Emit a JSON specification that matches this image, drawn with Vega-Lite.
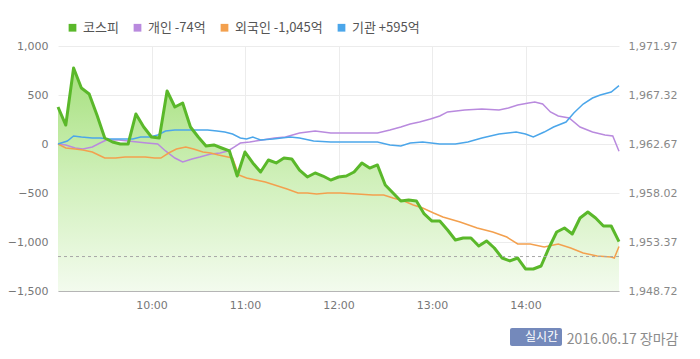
{
  "$schema": "https://vega.github.io/schema/vega-lite/v6.json",
  "width": 561,
  "height": 245,
  "autosize": {"type": "none"},
  "padding": {"left": 58, "top": 46, "right": 81, "bottom": 68},
  "background": "white",
  "config": {
    "view": {"stroke": null},
    "font": "DejaVu Sans"
  },
  "datasets": {
    "kospi": [
      {"t": "2016-06-17T09:00", "p": 1966.18}, {"t": "2016-06-17T09:05", "p": 1964.47}, {"t": "2016-06-17T09:10", "p": 1969.88},
      {"t": "2016-06-17T09:15", "p": 1967.98}, {"t": "2016-06-17T09:20", "p": 1967.42}, {"t": "2016-06-17T09:25", "p": 1965.42},
      {"t": "2016-06-17T09:30", "p": 1963.24}, {"t": "2016-06-17T09:35", "p": 1962.86}, {"t": "2016-06-17T09:40", "p": 1962.67},
      {"t": "2016-06-17T09:45", "p": 1962.67}, {"t": "2016-06-17T09:50", "p": 1965.52}, {"t": "2016-06-17T09:55", "p": 1964.28},
      {"t": "2016-06-17T10:00", "p": 1963.33}, {"t": "2016-06-17T10:05", "p": 1963.24}, {"t": "2016-06-17T10:10", "p": 1967.70},
      {"t": "2016-06-17T10:15", "p": 1966.18}, {"t": "2016-06-17T10:20", "p": 1966.56}, {"t": "2016-06-17T10:25", "p": 1964.28},
      {"t": "2016-06-17T10:30", "p": 1963.33}, {"t": "2016-06-17T10:35", "p": 1962.48}, {"t": "2016-06-17T10:40", "p": 1962.58},
      {"t": "2016-06-17T10:45", "p": 1962.29}, {"t": "2016-06-17T10:50", "p": 1962.01}, {"t": "2016-06-17T10:55", "p": 1959.63},
      {"t": "2016-06-17T11:00", "p": 1961.91}, {"t": "2016-06-17T11:05", "p": 1960.87}, {"t": "2016-06-17T11:10", "p": 1960.01},
      {"t": "2016-06-17T11:15", "p": 1961.15}, {"t": "2016-06-17T11:20", "p": 1960.87}, {"t": "2016-06-17T11:25", "p": 1961.34},
      {"t": "2016-06-17T11:30", "p": 1961.25}, {"t": "2016-06-17T11:35", "p": 1960.20}, {"t": "2016-06-17T11:40", "p": 1959.54},
      {"t": "2016-06-17T11:45", "p": 1959.92}, {"t": "2016-06-17T11:50", "p": 1959.63}, {"t": "2016-06-17T11:55", "p": 1959.25},
      {"t": "2016-06-17T12:00", "p": 1959.54}, {"t": "2016-06-17T12:05", "p": 1959.63}, {"t": "2016-06-17T12:10", "p": 1960.01},
      {"t": "2016-06-17T12:15", "p": 1960.87}, {"t": "2016-06-17T12:20", "p": 1960.39}, {"t": "2016-06-17T12:25", "p": 1960.68},
      {"t": "2016-06-17T12:30", "p": 1958.78}, {"t": "2016-06-17T12:35", "p": 1958.02}, {"t": "2016-06-17T12:40", "p": 1957.26},
      {"t": "2016-06-17T12:45", "p": 1957.36}, {"t": "2016-06-17T12:50", "p": 1957.26}, {"t": "2016-06-17T12:55", "p": 1956.03},
      {"t": "2016-06-17T13:00", "p": 1955.36}, {"t": "2016-06-17T13:05", "p": 1955.36}, {"t": "2016-06-17T13:10", "p": 1954.51},
      {"t": "2016-06-17T13:15", "p": 1953.56}, {"t": "2016-06-17T13:20", "p": 1953.75}, {"t": "2016-06-17T13:25", "p": 1953.75},
      {"t": "2016-06-17T13:30", "p": 1952.99}, {"t": "2016-06-17T13:35", "p": 1953.47}, {"t": "2016-06-17T13:40", "p": 1952.80},
      {"t": "2016-06-17T13:45", "p": 1951.85}, {"t": "2016-06-17T13:50", "p": 1951.57}, {"t": "2016-06-17T13:55", "p": 1951.85},
      {"t": "2016-06-17T14:00", "p": 1950.81}, {"t": "2016-06-17T14:05", "p": 1950.81}, {"t": "2016-06-17T14:10", "p": 1951.09},
      {"t": "2016-06-17T14:15", "p": 1952.80}, {"t": "2016-06-17T14:20", "p": 1954.32}, {"t": "2016-06-17T14:25", "p": 1954.70},
      {"t": "2016-06-17T14:30", "p": 1954.13}, {"t": "2016-06-17T14:35", "p": 1955.65}, {"t": "2016-06-17T14:40", "p": 1956.22},
      {"t": "2016-06-17T14:45", "p": 1955.65}, {"t": "2016-06-17T14:50", "p": 1954.89}, {"t": "2016-06-17T14:55", "p": 1954.89},
      {"t": "2016-06-17T15:00", "p": 1953.40}
    ],
    "investor": [
      {"t": "2016-06-17T09:00", "s": "개인", "v": 0}, {"t": "2016-06-17T09:05", "s": "개인", "v": -10}, {"t": "2016-06-17T09:11", "s": "개인", "v": -41},
      {"t": "2016-06-17T09:16", "s": "개인", "v": -51}, {"t": "2016-06-17T09:22", "s": "개인", "v": -31}, {"t": "2016-06-17T09:27", "s": "개인", "v": 10},
      {"t": "2016-06-17T09:31", "s": "개인", "v": 41}, {"t": "2016-06-17T09:39", "s": "개인", "v": 41}, {"t": "2016-06-17T09:45", "s": "개인", "v": 31},
      {"t": "2016-06-17T09:51", "s": "개인", "v": 20}, {"t": "2016-06-17T09:57", "s": "개인", "v": 10}, {"t": "2016-06-17T10:04", "s": "개인", "v": 0},
      {"t": "2016-06-17T10:09", "s": "개인", "v": -71}, {"t": "2016-06-17T10:15", "s": "개인", "v": -143}, {"t": "2016-06-17T10:20", "s": "개인", "v": -184},
      {"t": "2016-06-17T10:26", "s": "개인", "v": -153}, {"t": "2016-06-17T10:31", "s": "개인", "v": -133}, {"t": "2016-06-17T10:38", "s": "개인", "v": -102},
      {"t": "2016-06-17T10:44", "s": "개인", "v": -92}, {"t": "2016-06-17T10:49", "s": "개인", "v": -71}, {"t": "2016-06-17T10:53", "s": "개인", "v": -31},
      {"t": "2016-06-17T10:57", "s": "개인", "v": 10}, {"t": "2016-06-17T11:03", "s": "개인", "v": 20}, {"t": "2016-06-17T11:11", "s": "개인", "v": 41},
      {"t": "2016-06-17T11:19", "s": "개인", "v": 61}, {"t": "2016-06-17T11:26", "s": "개인", "v": 71}, {"t": "2016-06-17T11:35", "s": "개인", "v": 112},
      {"t": "2016-06-17T11:45", "s": "개인", "v": 133}, {"t": "2016-06-17T11:55", "s": "개인", "v": 112}, {"t": "2016-06-17T12:08", "s": "개인", "v": 112},
      {"t": "2016-06-17T12:25", "s": "개인", "v": 112}, {"t": "2016-06-17T12:33", "s": "개인", "v": 143}, {"t": "2016-06-17T12:40", "s": "개인", "v": 173},
      {"t": "2016-06-17T12:46", "s": "개인", "v": 204}, {"t": "2016-06-17T12:52", "s": "개인", "v": 224}, {"t": "2016-06-17T12:59", "s": "개인", "v": 255},
      {"t": "2016-06-17T13:05", "s": "개인", "v": 286}, {"t": "2016-06-17T13:10", "s": "개인", "v": 327}, {"t": "2016-06-17T13:21", "s": "개인", "v": 347},
      {"t": "2016-06-17T13:32", "s": "개인", "v": 357}, {"t": "2016-06-17T13:43", "s": "개인", "v": 347}, {"t": "2016-06-17T13:49", "s": "개인", "v": 367},
      {"t": "2016-06-17T13:55", "s": "개인", "v": 398}, {"t": "2016-06-17T14:02", "s": "개인", "v": 418}, {"t": "2016-06-17T14:06", "s": "개인", "v": 429},
      {"t": "2016-06-17T14:11", "s": "개인", "v": 408}, {"t": "2016-06-17T14:16", "s": "개인", "v": 327}, {"t": "2016-06-17T14:21", "s": "개인", "v": 286},
      {"t": "2016-06-17T14:28", "s": "개인", "v": 265}, {"t": "2016-06-17T14:35", "s": "개인", "v": 173}, {"t": "2016-06-17T14:43", "s": "개인", "v": 122},
      {"t": "2016-06-17T14:51", "s": "개인", "v": 92}, {"t": "2016-06-17T14:56", "s": "개인", "v": 82}, {"t": "2016-06-17T15:00", "s": "개인", "v": -74},
      {"t": "2016-06-17T09:00", "s": "외국인", "v": 0}, {"t": "2016-06-17T09:05", "s": "외국인", "v": -41}, {"t": "2016-06-17T09:11", "s": "외국인", "v": -51},
      {"t": "2016-06-17T09:16", "s": "외국인", "v": -61}, {"t": "2016-06-17T09:22", "s": "외국인", "v": -82}, {"t": "2016-06-17T09:26", "s": "외국인", "v": -112},
      {"t": "2016-06-17T09:30", "s": "외국인", "v": -143}, {"t": "2016-06-17T09:37", "s": "외국인", "v": -143}, {"t": "2016-06-17T09:43", "s": "외국인", "v": -133},
      {"t": "2016-06-17T09:49", "s": "외국인", "v": -133}, {"t": "2016-06-17T09:56", "s": "외국인", "v": -133}, {"t": "2016-06-17T10:02", "s": "외국인", "v": -143},
      {"t": "2016-06-17T10:06", "s": "외국인", "v": -143}, {"t": "2016-06-17T10:11", "s": "외국인", "v": -92}, {"t": "2016-06-17T10:16", "s": "외국인", "v": -51},
      {"t": "2016-06-17T10:22", "s": "외국인", "v": -31}, {"t": "2016-06-17T10:27", "s": "외국인", "v": -51}, {"t": "2016-06-17T10:33", "s": "외국인", "v": -82},
      {"t": "2016-06-17T10:38", "s": "외국인", "v": -92}, {"t": "2016-06-17T10:43", "s": "외국인", "v": -112}, {"t": "2016-06-17T10:49", "s": "외국인", "v": -133},
      {"t": "2016-06-17T10:52", "s": "외국인", "v": -143}, {"t": "2016-06-17T10:56", "s": "외국인", "v": -316}, {"t": "2016-06-17T11:01", "s": "외국인", "v": -347},
      {"t": "2016-06-17T11:07", "s": "외국인", "v": -367}, {"t": "2016-06-17T11:13", "s": "외국인", "v": -388}, {"t": "2016-06-17T11:19", "s": "외국인", "v": -418},
      {"t": "2016-06-17T11:27", "s": "외국인", "v": -459}, {"t": "2016-06-17T11:34", "s": "외국인", "v": -500}, {"t": "2016-06-17T11:40", "s": "외국인", "v": -500},
      {"t": "2016-06-17T11:46", "s": "외국인", "v": -510}, {"t": "2016-06-17T11:53", "s": "외국인", "v": -500}, {"t": "2016-06-17T12:01", "s": "외국인", "v": -500},
      {"t": "2016-06-17T12:12", "s": "외국인", "v": -510}, {"t": "2016-06-17T12:22", "s": "외국인", "v": -520}, {"t": "2016-06-17T12:29", "s": "외국인", "v": -520},
      {"t": "2016-06-17T12:35", "s": "외국인", "v": -551}, {"t": "2016-06-17T12:42", "s": "외국인", "v": -582}, {"t": "2016-06-17T12:48", "s": "외국인", "v": -622},
      {"t": "2016-06-17T12:54", "s": "외국인", "v": -653}, {"t": "2016-06-17T13:01", "s": "외국인", "v": -704}, {"t": "2016-06-17T13:07", "s": "외국인", "v": -745},
      {"t": "2016-06-17T13:18", "s": "외국인", "v": -796}, {"t": "2016-06-17T13:29", "s": "외국인", "v": -857}, {"t": "2016-06-17T13:39", "s": "외국인", "v": -898},
      {"t": "2016-06-17T13:48", "s": "외국인", "v": -949}, {"t": "2016-06-17T13:55", "s": "외국인", "v": -1020}, {"t": "2016-06-17T14:03", "s": "외국인", "v": -1020},
      {"t": "2016-06-17T14:12", "s": "외국인", "v": -1051}, {"t": "2016-06-17T14:21", "s": "외국인", "v": -1020}, {"t": "2016-06-17T14:29", "s": "외국인", "v": -1061},
      {"t": "2016-06-17T14:37", "s": "외국인", "v": -1112}, {"t": "2016-06-17T14:46", "s": "외국인", "v": -1143}, {"t": "2016-06-17T14:55", "s": "외국인", "v": -1153},
      {"t": "2016-06-17T14:57", "s": "외국인", "v": -1163}, {"t": "2016-06-17T15:00", "s": "외국인", "v": -1045},
      {"t": "2016-06-17T09:00", "s": "기관", "v": 0}, {"t": "2016-06-17T09:06", "s": "기관", "v": 31}, {"t": "2016-06-17T09:10", "s": "기관", "v": 82},
      {"t": "2016-06-17T09:15", "s": "기관", "v": 71}, {"t": "2016-06-17T09:22", "s": "기관", "v": 61}, {"t": "2016-06-17T09:27", "s": "기관", "v": 61},
      {"t": "2016-06-17T09:33", "s": "기관", "v": 51}, {"t": "2016-06-17T09:40", "s": "기관", "v": 51}, {"t": "2016-06-17T09:48", "s": "기관", "v": 51},
      {"t": "2016-06-17T09:53", "s": "기관", "v": 71}, {"t": "2016-06-17T09:59", "s": "기관", "v": 71}, {"t": "2016-06-17T10:04", "s": "기관", "v": 92},
      {"t": "2016-06-17T10:09", "s": "기관", "v": 133}, {"t": "2016-06-17T10:15", "s": "기관", "v": 143}, {"t": "2016-06-17T10:25", "s": "기관", "v": 143},
      {"t": "2016-06-17T10:36", "s": "기관", "v": 143}, {"t": "2016-06-17T10:42", "s": "기관", "v": 133}, {"t": "2016-06-17T10:47", "s": "기관", "v": 122},
      {"t": "2016-06-17T10:52", "s": "기관", "v": 102}, {"t": "2016-06-17T10:57", "s": "기관", "v": 61}, {"t": "2016-06-17T11:01", "s": "기관", "v": 51},
      {"t": "2016-06-17T11:05", "s": "기관", "v": 71}, {"t": "2016-06-17T11:10", "s": "기관", "v": 41}, {"t": "2016-06-17T11:18", "s": "기관", "v": 51},
      {"t": "2016-06-17T11:29", "s": "기관", "v": 71}, {"t": "2016-06-17T11:35", "s": "기관", "v": 61}, {"t": "2016-06-17T11:44", "s": "기관", "v": 31},
      {"t": "2016-06-17T11:55", "s": "기관", "v": 20}, {"t": "2016-06-17T12:08", "s": "기관", "v": 20}, {"t": "2016-06-17T12:25", "s": "기관", "v": 20},
      {"t": "2016-06-17T12:33", "s": "기관", "v": -10}, {"t": "2016-06-17T12:40", "s": "기관", "v": -20}, {"t": "2016-06-17T12:46", "s": "기관", "v": 10},
      {"t": "2016-06-17T12:54", "s": "기관", "v": 20}, {"t": "2016-06-17T13:05", "s": "기관", "v": 0}, {"t": "2016-06-17T13:15", "s": "기관", "v": 0},
      {"t": "2016-06-17T13:23", "s": "기관", "v": 20}, {"t": "2016-06-17T13:32", "s": "기관", "v": 61}, {"t": "2016-06-17T13:43", "s": "기관", "v": 102},
      {"t": "2016-06-17T13:54", "s": "기관", "v": 122}, {"t": "2016-06-17T14:00", "s": "기관", "v": 102}, {"t": "2016-06-17T14:05", "s": "기관", "v": 71},
      {"t": "2016-06-17T14:12", "s": "기관", "v": 122}, {"t": "2016-06-17T14:18", "s": "기관", "v": 173}, {"t": "2016-06-17T14:26", "s": "기관", "v": 224},
      {"t": "2016-06-17T14:31", "s": "기관", "v": 316}, {"t": "2016-06-17T14:37", "s": "기관", "v": 408}, {"t": "2016-06-17T14:43", "s": "기관", "v": 469},
      {"t": "2016-06-17T14:48", "s": "기관", "v": 500}, {"t": "2016-06-17T14:55", "s": "기관", "v": 531}, {"t": "2016-06-17T15:00", "s": "기관", "v": 595}
    ],
    "prev": [{"p": 1951.99, "k": "전일종가"}]
  },
  "layer": [
    {
      "data": {"name": "kospi"},
      "mark": {
        "type": "area",
        "color": {"x1": 0, "y1": 0, "x2": 0, "y2": 1, "gradient": "linear",
          "stops": [{"offset": 0, "color": "#a6e07e"}, {"offset": 0.5, "color": "#d0f0ba"}, {"offset": 1, "color": "#f3fbee"}]},
        "opacity": 1
      },
      "encoding": {
        "x": {"field": "t", "type": "temporal",
          "scale": {"domain": [{"year": 2016, "month": 6, "date": 17, "hours": 9}, {"year": 2016, "month": 6, "date": 17, "hours": 15}]},
          "axis": {"values": [{"year": 2016, "month": 6, "date": 17, "hours": 10}, {"year": 2016, "month": 6, "date": 17, "hours": 11}, {"year": 2016, "month": 6, "date": 17, "hours": 12}, {"year": 2016, "month": 6, "date": 17, "hours": 13}, {"year": 2016, "month": 6, "date": 17, "hours": 14}],
            "format": "%H:%M", "grid": true, "gridColor": "#ececec", "domainColor": "#b5b5b5", "ticks": false,
            "labelFont": "DejaVu Sans", "labelFontSize": 11, "labelColor": "#777", "labelPadding": 8,
            "title": "2016.06.17 장마감", "titleX": 620, "titleY": 52, "titleAlign": "right", "titleAnchor": "end", "titleBaseline": "alphabetic",
            "titleFont": "Noto Sans CJK KR", "titleFontSize": 14, "titleFontWeight": "normal", "titleColor": "#8c8c8c"}},
        "y": {"field": "p", "type": "quantitative", "scale": {"domain": [1948.72, 1971.97], "nice": false, "zero": false}, "axis": null},
        "y2": {"datum": 1948.72}
      }
    },
    {
      "data": {"name": "investor"},
      "mark": {"type": "square", "size": 0, "filled": true, "opacity": 1},
      "encoding": {
        "x": {"field": "t", "type": "temporal",
          "scale": {"domain": [{"year": 2016, "month": 6, "date": 17, "hours": 9}, {"year": 2016, "month": 6, "date": 17, "hours": 15}]},
          "axis": {"values": [{"year": 2016, "month": 6, "date": 17, "hours": 10}, {"year": 2016, "month": 6, "date": 17, "hours": 11}, {"year": 2016, "month": 6, "date": 17, "hours": 12}, {"year": 2016, "month": 6, "date": 17, "hours": 13}, {"year": 2016, "month": 6, "date": 17, "hours": 14}],
            "format": "%H:%M", "grid": true, "gridColor": "#ececec", "domainColor": "#b5b5b5", "ticks": false,
            "labelFont": "DejaVu Sans", "labelFontSize": 11, "labelColor": "#777", "labelPadding": 8,
            "title": "2016.06.17 장마감", "titleX": 620, "titleY": 52, "titleAlign": "right", "titleAnchor": "end", "titleBaseline": "alphabetic",
            "titleFont": "Noto Sans CJK KR", "titleFontSize": 14, "titleFontWeight": "normal", "titleColor": "#8c8c8c"}},
        "y": {"field": "v", "type": "quantitative", "scale": {"domain": [-1500, 1000], "nice": false},
          "axis": {"orient": "left", "values": [-1500, -1000, -500, 0, 500, 1000], "format": ",.0f", "grid": true, "gridColor": "#ececec",
            "domain": false, "ticks": false, "labelPadding": 10, "title": null, "labelFont": "DejaVu Sans", "labelFontSize": 11, "labelColor": "#777"}},
        "color": {"field": "s", "type": "nominal",
          "scale": {"domain": ["코스피", "개인", "외국인", "기관"], "range": ["#5ab82a", "#b98ade", "#f3a04e", "#4ba6ea"]},
          "legend": {"orient": "none", "legendX": 8, "legendY": -25, "direction": "horizontal", "title": null, "padding": 0,
            "labelFont": "Noto Sans CJK KR", "labelFontSize": 13, "labelColor": "#555", "labelOffset": 4, "columnPadding": 12,
            "symbolType": "square", "symbolSize": 60, "symbolStrokeWidth": 0, "symbolOpacity": 1,
            "labelExpr": "datum.label == '개인' ? '개인 -74억' : datum.label == '외국인' ? '외국인 -1,045억' : datum.label == '기관' ? '기관 +595억' : datum.label"
          }
        }
      }
    },
    {
      "data": {"name": "investor"},
      "mark": {"type": "line", "strokeWidth": 1.5, "interpolate": "linear"},
      "encoding": {
        "x": {"field": "t", "type": "temporal"},
        "y": {"field": "v", "type": "quantitative", "scale": {"domain": [-1500, 1000], "nice": false}, "axis": null},
        "color": {"field": "s", "type": "nominal",
          "scale": {"domain": ["코스피", "개인", "외국인", "기관"], "range": ["#5ab82a", "#b98ade", "#f3a04e", "#4ba6ea"]},
          "legend": null}
      }
    },
    {
      "data": {"name": "kospi"},
      "mark": {"type": "line", "strokeWidth": 3, "strokeJoin": "round"},
      "encoding": {
        "x": {"field": "t", "type": "temporal"},
        "y": {"field": "p", "type": "quantitative", "scale": {"domain": [1948.72, 1971.97], "nice": false, "zero": false},
          "axis": {"orient": "right", "values": [1948.72, 1953.37, 1958.02, 1962.67, 1967.32, 1971.97], "format": ",.2f", "grid": false,
            "domain": false, "ticks": false, "labelPadding": 9, "title": null, "labelFont": "DejaVu Sans", "labelFontSize": 11, "labelColor": "#888"}},
        "color": {"datum": "코스피", "type": "nominal",
          "scale": {"domain": ["코스피", "개인", "외국인", "기관"], "range": ["#5ab82a", "#b98ade", "#f3a04e", "#4ba6ea"]},
          "legend": null}
      }
    },
    {
      "data": {"name": "prev"},
      "mark": {"type": "rule", "strokeWidth": 1, "color": "#a8a8a8"},
      "encoding": {
        "y": {"field": "p", "type": "quantitative", "scale": {"domain": [1948.72, 1971.97], "nice": false, "zero": false}, "axis": null},
        "strokeDash": {"field": "k", "type": "nominal", "scale": {"domain": ["전일종가"], "range": [[3, 3]]},
          "legend": {"orient": "none", "legendX": 452, "legendY": 282, "title": null, "padding": 3, "cornerRadius": 2,
            "fillColor": "#7489bb", "labelExpr": "'실시간'", "labelFont": "Noto Sans CJK KR", "labelFontSize": 12, "labelColor": "#ffffff",
            "labelOffset": 0, "symbolType": "circle", "symbolSize": 0, "symbolOpacity": 0, "symbolStrokeWidth": 0}}
      }
    }
  ],
  "resolve": {"scale": {"y": "independent"}}
}
